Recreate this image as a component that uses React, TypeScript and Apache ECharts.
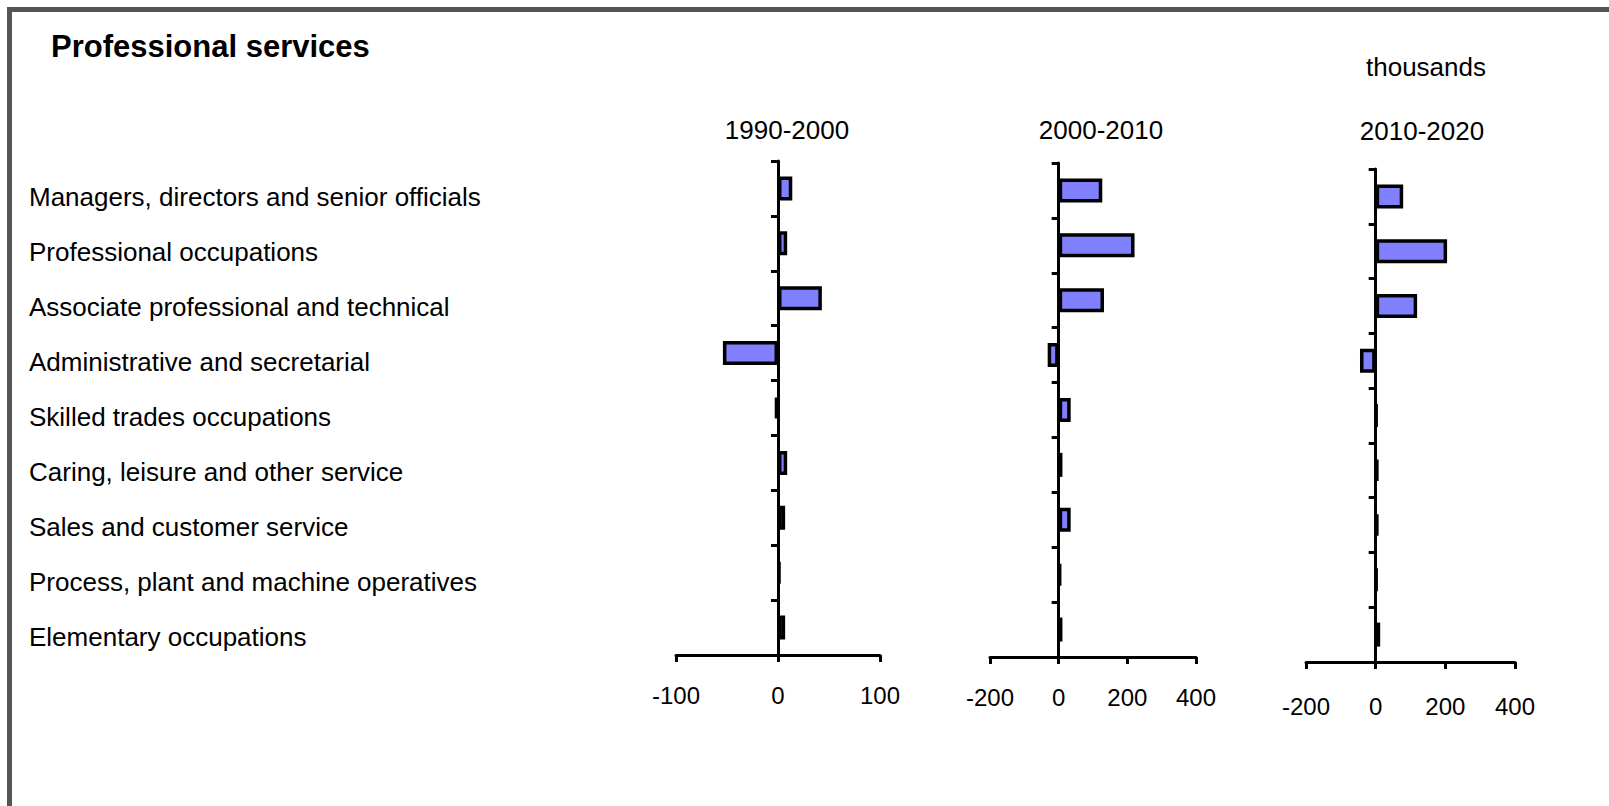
import React, { useEffect, useRef } from "react";
import * as echarts from "echarts";

const chartTitle = "Professional services";
const unitLabel = "thousands";
const categories = [
  "Managers, directors and senior officials",
  "Professional occupations",
  "Associate professional and technical",
  "Administrative and secretarial",
  "Skilled trades occupations",
  "Caring, leisure and other service",
  "Sales and customer service",
  "Process, plant and machine operatives",
  "Elementary occupations",
];
const periods = ["1990-2000", "2000-2010", "2010-2020"];
const values1990 = [14, 9, 43, -54, -3, 9, 7, 2, 7];
const values2000 = [127, 221, 132, -32, 35, 11, 35, 6, 11];
const values2010 = [79, 205, 119, -45, 3, 7, 7, 3, 13];
const axisMins = [-100, -200, -200];
const axisMaxs = [100, 400, 400];
const axisIntervals = [100, 200, 200];

const FONT = "'Liberation Sans', Arial, sans-serif";

export default function App() {
  const ref = useRef<HTMLDivElement>(null);
  useEffect(() => {
    document.body.style.margin = "0";
    document.body.style.overflow = "hidden";
    const chart = echarts.init(ref.current!, null, { renderer: "svg" });
    const grids = [
      { left: 676, top: 161, width: 204, height: 494 },
      { left: 990, top: 163, width: 206, height: 494 },
      { left: 1306, top: 169, width: 209, height: 493 },
    ];
    const periodPos = [
      { x: 787, y: 130 },
      { x: 1101, y: 130 },
      { x: 1422, y: 131 },
    ];
    const xLabelMargins = [28, 28, 32];
    const seriesValues = [values1990, values2000, values2010];
    const axisLine = { show: true, onZero: true, lineStyle: { color: "#000", width: 3 } };
    const axisTick = { show: true, length: 7, lineStyle: { color: "#000", width: 3 } };

    chart.setOption({
      animation: false,
      backgroundColor: "#fff",
      grid: grids.map((g) => ({ ...g, containLabel: false, outerBoundsMode: "none" })),
      xAxis: grids.map((_, i) => ({
        type: "value",
        gridIndex: i,
        min: axisMins[i],
        max: axisMaxs[i],
        interval: axisIntervals[i],
        splitLine: { show: false },
        axisLine: { show: true, onZero: false, lineStyle: { color: "#000", width: 3 } },
        axisTick,
        axisLabel: {
          color: "#000",
          fontSize: 24,
          fontFamily: FONT,
          margin: xLabelMargins[i],
        },
      })),
      yAxis: grids.map((g, i) => ({
        type: "category",
        gridIndex: i,
        data: categories,
        inverse: true,
        axisLine,
        axisTick,
        splitLine: { show: false },
        axisLabel: {
          show: i === 0,
          align: "left",
          margin: g.left - 29,
          color: "#000",
          fontSize: 26,
          fontFamily: FONT,
          verticalAlign: "top",
          lineHeight: 18,
        },
      })),
      series: seriesValues.map((vals, i) => ({
        type: "bar",
        xAxisIndex: i,
        yAxisIndex: i,
        data: vals,
        barWidth: 24,
        itemStyle: { color: "#8080FF", borderColor: "#000", borderWidth: 3.5 },
      })),
      graphic: [
        {
          type: "rect",
          shape: { x: 9.5, y: 9.5, width: 1800, height: 1000 },
          style: { fill: "none", stroke: "#555", lineWidth: 5 },
          silent: true,
        },
        {
          type: "text",
          x: 51,
          y: 46,
          style: {
            text: chartTitle,
            fontSize: 31,
            fontWeight: "bold",
            fontFamily: FONT,
            fill: "#000",
            verticalAlign: "middle",
            align: "left",
          },
        },
        {
          type: "text",
          x: 1426,
          y: 67,
          style: {
            text: unitLabel,
            fontSize: 26,
            fontFamily: FONT,
            fill: "#000",
            verticalAlign: "middle",
            align: "center",
          },
        },
        ...periods.map((p, i) => ({
          type: "text",
          x: periodPos[i].x,
          y: periodPos[i].y,
          style: {
            text: p,
            fontSize: 26,
            fontFamily: FONT,
            fill: "#000",
            verticalAlign: "middle",
            align: "center",
          },
        })),
      ],
    });
    return () => chart.dispose();
  }, []);
  return <div ref={ref} style={{ width: 1609, height: 806 }} />;
}
